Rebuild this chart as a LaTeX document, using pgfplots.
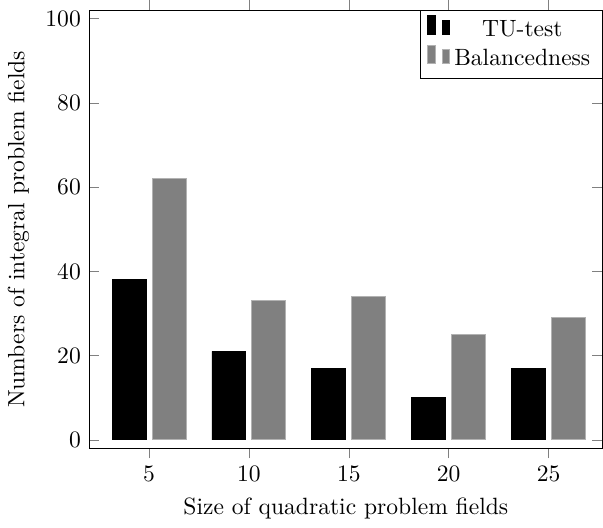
\documentclass[border=0pt]{standalone}
\usepackage{pgfplots}
\pgfplotsset{compat=1.18}
\begin{document}
\begin{tikzpicture}
\begin{axis}[
  scale only axis,
  width=218pt, height=186pt,
  ybar, bar width=1.7,
  xmin=2, xmax=27.7, ymin=-2, ymax=102,
  xtick={5,10,15,20,25},
  ytick={0,20,40,60,80,100},
  xlabel={Size of quadratic problem fields},
  ylabel={Numbers of integral problem fields},
  legend style={at={(1,1)}, anchor=north east, cells={anchor=center}},
  legend cell align=center,
]
\addplot[draw=black, fill=black, bar shift=-1.0] coordinates {(5,38) (10,21) (15,17) (20,10) (25,17)};
\addplot[draw=gray!60, fill=gray, bar shift=1.0] coordinates {(5,62) (10,33) (15,34) (20,25) (25,29)};
\legend{TU-test, Balancedness}
\end{axis}
\end{tikzpicture}
\end{document}
